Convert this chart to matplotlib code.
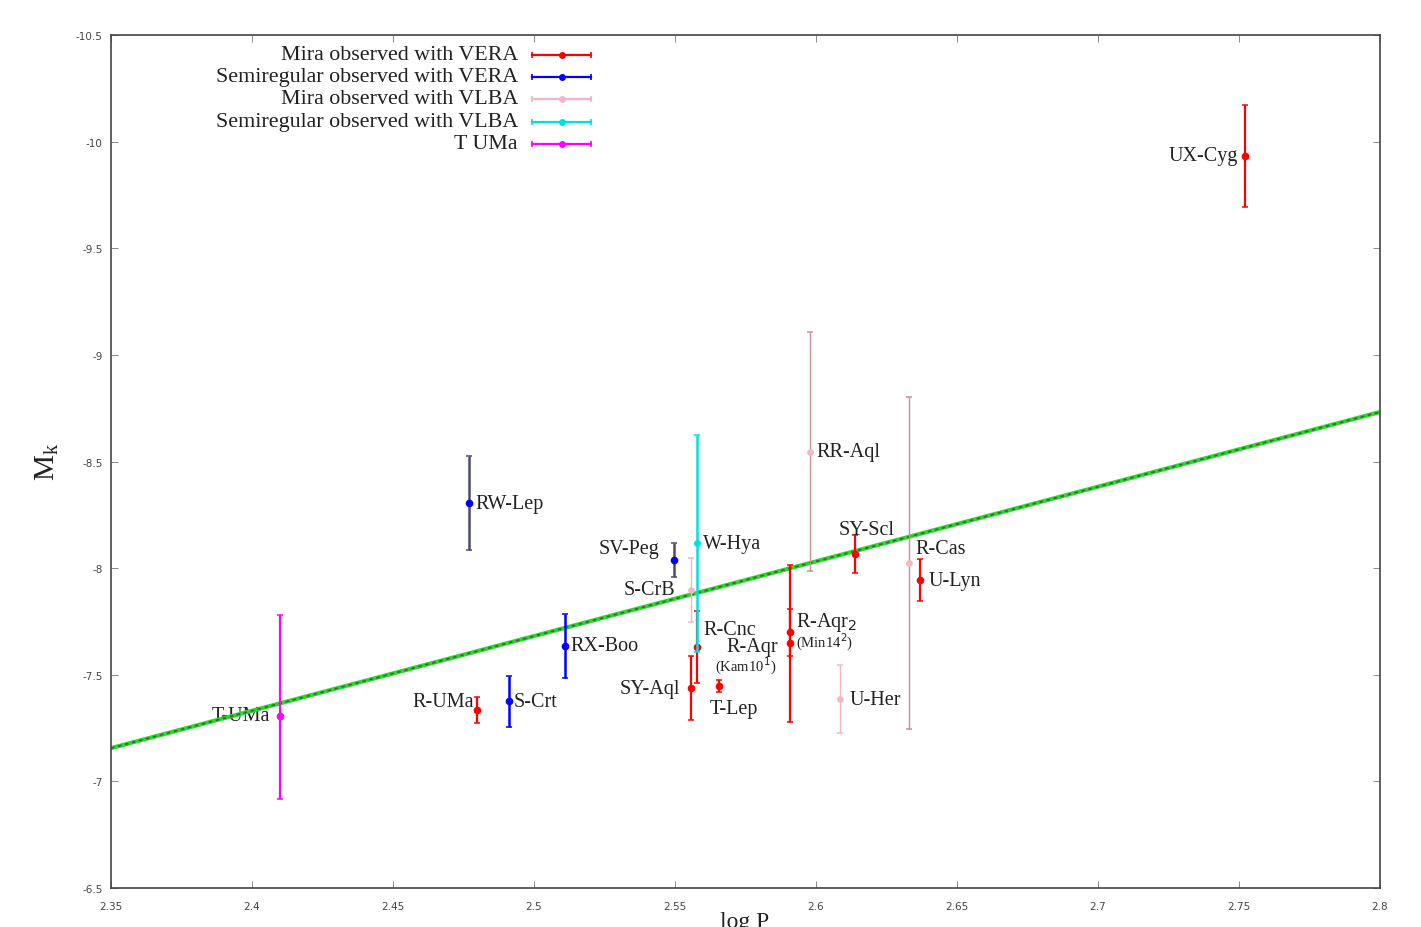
import matplotlib
matplotlib.use("Agg")
import matplotlib.pyplot as plt
import numpy as np

# ---- data -----------------------------------------------------------------
# Mira variables observed with VERA
mira_vera_names = ["UX-Cyg", "R-UMa", "SY-Aql", "T-Lep", "R-Aqr", "R-Aqr2",
                   "SY-Scl", "U-Lyn", "R-Cnc"]
mira_vera_logp = [2.7521, 2.4798, 2.5557, 2.5656, 2.5908, 2.5908,
                  2.6140, 2.6369, 2.5578]
mira_vera_mk = [-9.934, -7.336, -7.436, -7.447, -7.647, -7.699,
                -8.066, -7.944, -7.630]
mira_vera_err = [0.24, 0.06, 0.15, 0.03, 0.37, 0.11, 0.09, 0.10, 0.17]

# Semiregular variables observed with VERA
sr_vera_names = ["RW-Lep", "S-Crt", "RX-Boo", "SV-Peg"]
sr_vera_logp = [2.4770, 2.4911, 2.5110, 2.5496]
sr_vera_mk = [-8.305, -7.375, -7.636, -8.038]
sr_vera_err = [0.22, 0.12, 0.15, 0.08]

# Mira variables observed with VLBA
mira_vlba_names = ["S-CrB", "RR-Aql", "R-Cas", "U-Her"]
mira_vlba_logp = [2.5557, 2.5979, 2.6330, 2.6085]
mira_vlba_mk = [-7.899, -8.546, -8.024, -7.386]
mira_vlba_err = [0.15, 0.56, 0.78, 0.16]

# Semiregular variables observed with VLBA
sr_vlba_names = ["W-Hya"]
sr_vlba_logp = [2.5578]
sr_vlba_mk = [-8.116]
sr_vlba_err = [0.51]

# T UMa (asymmetric error: brighter side, fainter side)
tuma_logp = [2.4099]
tuma_mk = [-7.308]
tuma_err_bright = [0.47]
tuma_err_faint = [0.39]

# Period-luminosity relation
pl_logp = [2.35, 2.80]
pl_mk = [-7.156, -8.732]

legend_labels = ["Mira observed with VERA", "Semiregular observed with VERA",
                 "Mira observed with VLBA", "Semiregular observed with VLBA",
                 "T UMa"]

xticks = [2.35, 2.4, 2.45, 2.5, 2.55, 2.6, 2.65, 2.7, 2.75, 2.8]
yticks = [-10.5, -10, -9.5, -9, -8.5, -8, -7.5, -7, -6.5]

# ---- styling --------------------------------------------------------------
SERIF = ["Liberation Serif", "DejaVu Serif"]
TXT = "#222222"
RED = "#ff0000"
BLUE = "#0000ff"
PINK = "#f4b6c0"
PINK_DARK = "#c89098"
CYAN = "#00e0e0"
MAGENTA = "#ff00ff"
SLATE = "#4d4d66"

fig = plt.figure(figsize=(14.21, 9.28), dpi=100)
ax = fig.add_axes([0.0781, 0.0420, 0.8930, 0.9192])
ax.set_xlim(2.35, 2.8)
ax.set_ylim(-6.5, -10.5)

# PL relation: green line with a dark dashed core
ax.plot(pl_logp, pl_mk, color="#22dd22", lw=3.0, zorder=2, solid_capstyle="butt")
ax.plot(pl_logp, pl_mk, color="#555555", lw=1.3, dashes=(2.0, 2.0), zorder=2.1)

cap = 2.3


def draw_group(xs, ys, err, ecolor, mcolor, lw, ms, z=3):
    ax.errorbar(xs, ys, yerr=err, fmt="o", color=mcolor, ecolor=ecolor,
                markeredgecolor=mcolor, markerfacecolor=mcolor,
                elinewidth=lw, capsize=cap, capthick=1.1, ms=ms, zorder=z)


# Mira VLBA (thin pink bars; long bars look rosier)
vl_ecol = [PINK, PINK_DARK, PINK_DARK, PINK]
for x, y, e, c in zip(mira_vlba_logp, mira_vlba_mk, mira_vlba_err, vl_ecol):
    draw_group([x], [y], [e], c, PINK, 1.0, 3.8, z=3)

# Mira VERA
draw_group(mira_vera_logp, mira_vera_mk, mira_vera_err, RED, RED, 1.6, 4.5, z=4)

# Semiregular VERA (two of them with darker bars)
sr_ecol = [SLATE, BLUE, BLUE, SLATE]
for x, y, e, c in zip(sr_vera_logp, sr_vera_mk, sr_vera_err, sr_ecol):
    draw_group([x], [y], [e], c, BLUE, 1.8, 4.5, z=4)

# Semiregular VLBA
draw_group(sr_vlba_logp, sr_vlba_mk, sr_vlba_err, CYAN, CYAN, 1.8, 4.0, z=5)

# T UMa
ax.errorbar(tuma_logp, tuma_mk, yerr=[tuma_err_bright, tuma_err_faint], fmt="o",
            color=MAGENTA, ecolor=MAGENTA, markeredgecolor=MAGENTA,
            elinewidth=1.6, capsize=cap, capthick=1.1, ms=4.5, zorder=4)

# ---- star labels ----------------------------------------------------------
LFS = 14.5
label_offsets = {
    # name: (dx px, dy px, ha)  dy positive = up
    "UX-Cyg": (-7, 0, "right"),
    "R-UMa": (-3, 8, "right"),
    "SY-Aql": (-11, 0, "right"),
    "T-Lep": (-9, -22, "left"),
    "SY-Scl": (-17, 25, "left"),
    "U-Lyn": (9, 0, "left"),
    "R-Cnc": (6, 18, "left"),
    "RW-Lep": (6, 0, "left"),
    "S-Crt": (5, 0, "left"),
    "RX-Boo": (5, 0, "left"),
    "SV-Peg": (-14, 12, "right"),
    "S-CrB": (-16, 0, "right"),
    "RR-Aql": (6, 0, "left"),
    "R-Cas": (6, 15, "left"),
    "U-Her": (10, 0, "left"),
    "W-Hya": (6, 0, "left"),
}
PX = 0.72  # points per pixel at 100 dpi


def put_label(name, x, y):
    dx, dy, ha = label_offsets[name]
    ax.annotate(name, (x, y), xytext=(dx * PX, dy * PX), textcoords="offset points",
                ha=ha, va="center", fontsize=LFS, family=SERIF, color=TXT,
                zorder=6)


for names, xs, ys in [(mira_vera_names, mira_vera_logp, mira_vera_mk),
                      (sr_vera_names, sr_vera_logp, sr_vera_mk),
                      (mira_vlba_names, mira_vlba_logp, mira_vlba_mk),
                      (sr_vlba_names, sr_vlba_logp, sr_vlba_mk)]:
    for n, x, y in zip(names, xs, ys):
        if n in label_offsets:
            put_label(n, x, y)

ax.annotate("T-UMa", (tuma_logp[0], tuma_mk[0]), xytext=(-10 * PX, 0),
            textcoords="offset points", ha="right", va="center", fontsize=LFS,
            family=SERIF, color=TXT, zorder=1)

# the two R Aqr entries with references
i_k = mira_vera_names.index("R-Aqr")
i_m = mira_vera_names.index("R-Aqr2")
ax.annotate("R-Aqr", (mira_vera_logp[i_k], mira_vera_mk[i_k]),
            xytext=(-64 * PX, -3 * PX), textcoords="offset points",
            ha="left", va="center", fontsize=LFS, family=SERIF, color=TXT, zorder=6)
ax.annotate(r"(Kam10$^{1}$)", (mira_vera_logp[i_k], mira_vera_mk[i_k]),
            xytext=(-75 * PX, -22 * PX), textcoords="offset points",
            ha="left", va="center", fontsize=10.5, family=SERIF, color=TXT, zorder=6)
ax.annotate(r"R-Aqr$_{2}$", (mira_vera_logp[i_m], mira_vera_mk[i_m]),
            xytext=(6 * PX, 11 * PX), textcoords="offset points",
            ha="left", va="center", fontsize=LFS, family=SERIF, color=TXT, zorder=6)
ax.annotate(r"(Min14$^{2}$)", (mira_vera_logp[i_m], mira_vera_mk[i_m]),
            xytext=(6 * PX, -9 * PX), textcoords="offset points",
            ha="left", va="center", fontsize=10.5, family=SERIF, color=TXT, zorder=6)

# ---- key --------------------------------------------------------------------
key_colors = [RED, BLUE, PINK, CYAN, MAGENTA]
key_y = [0.9770, 0.9513, 0.9255, 0.8986, 0.8728]
x_text, x0, x1 = 0.3207, 0.3318, 0.3783
for lab, col, yk in zip(legend_labels, key_colors, key_y):
    ax.text(x_text, yk, lab, transform=ax.transAxes, ha="right", va="center",
            fontsize=15.8, family=SERIF, color=TXT)
    ax.plot([x0, x1], [yk, yk], transform=ax.transAxes, color=col, lw=1.6)
    ax.plot([x0, x1], [yk, yk], transform=ax.transAxes, color=col, ls="none",
            marker="|", ms=5, mew=1.2)
    ax.plot([(x0 + x1) / 2], [yk], transform=ax.transAxes, color=col, marker="o",
            ms=5, mew=0)

# ---- axes -----------------------------------------------------------------
ax.set_xticks(xticks)
ax.set_yticks(yticks)
ax.set_xticklabels(["%g" % t for t in xticks])
ax.set_yticklabels(["%g" % t for t in yticks])
ax.tick_params(direction="in", length=5, width=0.6, color="#777777",
               top=True, right=True, labelsize=7.5, labelcolor="#444444")
ax.tick_params(axis="x", pad=9)
ax.tick_params(axis="y", pad=6)
for s in ax.spines.values():
    s.set_color("#444444")
    s.set_linewidth(1.2)

fig.text(0.0330, 0.502, r"M$_{\mathregular{k}}$", rotation=90, ha="center",
         va="center", fontsize=21, family=SERIF, color=TXT)
fig.text(0.524, 1 - 912 / 928, "log P", ha="center", va="top", fontsize=17,
         family=SERIF, color=TXT)

fig.savefig("out.png", dpi=100)
